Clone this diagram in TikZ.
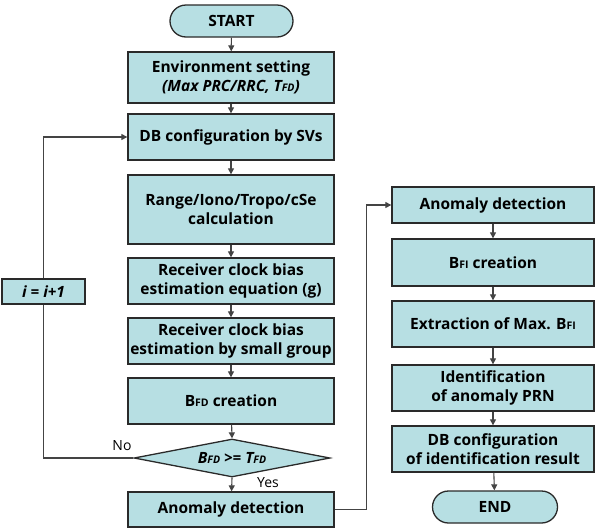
\documentclass[tikz,border=0pt]{standalone}
\usepackage{fontspec}
\setmainfont{Open Sans}
\usetikzlibrary{shapes.geometric,shapes.misc,arrows.meta}
\definecolor{boxfill}{HTML}{B7DFE3}
\definecolor{linec}{HTML}{2A2A2A}
\definecolor{connc}{HTML}{444444}
\newcommand\fdsub[1]{{\fontsize{10.5}{11}\selectfont #1}}
\begin{document}
\begin{tikzpicture}[x=1pt,y=-1pt,
  proc/.style={draw=linec, line width=1.3pt, fill=boxfill, minimum width=206pt,
    align=center, font=\bfseries\fontsize{15.5}{18.5}\selectfont, inner sep=0pt},
  rproc/.style={proc, minimum width=202pt},
  term/.style={draw=linec, line width=1.3pt, fill=boxfill, rounded rectangle,
    minimum height=32pt, inner sep=0pt, font=\bfseries\fontsize{15.5}{18.5}\selectfont},
  dec/.style={draw=linec, line width=1.3pt, fill=boxfill, diamond, aspect=5.16,
    minimum width=196pt, minimum height=38pt, inner sep=0pt,
    font=\bfseries\itshape\fontsize{15.5}{18.5}\selectfont},
  conn/.style={draw=connc, line width=1.1pt},
  arr/.style={conn, -{Triangle[length=6pt,width=6pt]}},
  lbl/.style={font=\fontsize{14}{16}\selectfont, inner sep=0pt}
]
\useasboundingbox (0,0) rectangle (595,528);

% left column
\node[term, minimum width=123pt] (start) at (231.5,21) {START};
\node[proc, minimum height=51pt] (env) at (231,77.5) {Environment setting\\{\itshape (Max PRC/RRC, T\fdsub{FD})}};
\node[proc, minimum height=46pt] (db) at (231,137) {DB configuration by SVs};
\node[proc, minimum height=69pt] (range) at (231,209.5) {Range/Iono/Tropo/cSe\\calculation};
\node[proc, minimum height=46pt] (rc1) at (231,281) {Receiver clock bias\\estimation equation (g)};
\node[proc, minimum height=46pt] (rc2) at (231,341) {Receiver clock bias\\estimation by small group};
\node[proc, minimum height=46pt] (bfd) at (231,401) {B\fdsub{FD} creation};
\node[dec] (dia) at (232,458) {B\fdsub{FD} >= T\fdsub{FD}};
\node[proc, minimum height=35pt] (ad1) at (231,509.5) {Anomaly detection};

% right column
\node[rproc, minimum height=36pt] (ad2) at (493,205) {Anomaly detection};
\node[rproc, minimum height=47pt] (bfi) at (493,262.5) {B\fdsub{FI} creation};
\node[rproc, minimum height=46pt] (ext) at (493,324) {Extraction of Max. B\fdsub{FI}};
\node[rproc, minimum height=46pt] (ident) at (493,388) {Identification\\of anomaly PRN};
\node[rproc, minimum height=46pt] (dbi) at (493,449) {DB configuration\\of identification result};
\node[term, minimum width=125pt] (end) at (495,507) {END};

% loop box
\node[proc, minimum width=83pt, minimum height=25pt, font=\bfseries\itshape\fontsize{15.5}{18.5}\selectfont] (inc) at (43.5,291.5) {i = i+1};

% connectors
\draw[arr] (start) -- (env);
\draw[arr] (env) -- (db);
\draw[arr] (db) -- (range);
\draw[arr] (range) -- (rc1);
\draw[arr] (rc1) -- (rc2);
\draw[arr] (rc2) -- (bfd);
\draw[arr] (bfd) -- (dia.north);
\draw[arr] (dia.south) -- (ad1);
\draw[conn] (dia.west) -| (inc.south);
\draw[arr] (inc.north) |- (db.west);
\draw[arr] (ad1.east) -- ++(32,0) |- (ad2.west);
\draw[arr] (ad2) -- (bfi);
\draw[arr] (bfi) -- (ext);
\draw[arr] (ext) -- (ident);
\draw[arr] (ident) -- (dbi);
\draw[arr] (dbi) -- (end);

% labels
\node[lbl] (no) at (122,446) {No};
\node[lbl] (yes) at (268,483) {Yes};
\end{tikzpicture}
\end{document}
